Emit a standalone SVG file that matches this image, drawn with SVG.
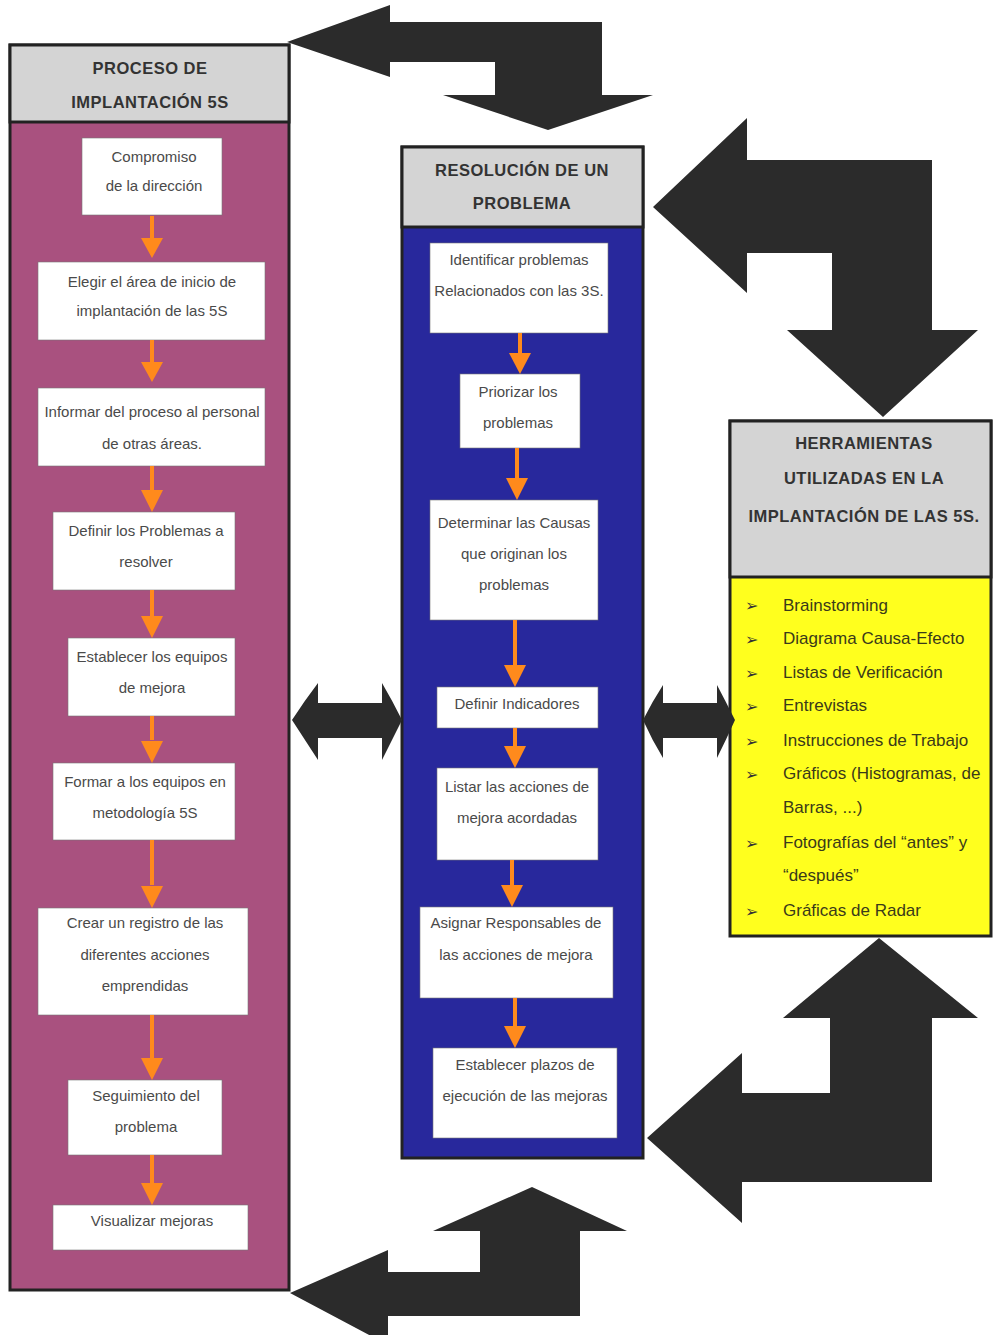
<svg xmlns="http://www.w3.org/2000/svg" width="993" height="1335" viewBox="0 0 993 1335">
<style>
.bg{fill:#ffffff}
.frame{stroke:#222;stroke-width:3}
.hdr{fill:#d4d4d4;stroke:#222;stroke-width:3}
.pink{fill:#a9517f}
.blue{fill:#28289c}
.yel{fill:#ffff1e}
.box{fill:#ffffff;stroke:#777;stroke-width:0.6}
.ht{font-family:"Liberation Sans",Arial,sans-serif;font-weight:bold;font-size:16.5px;fill:#333;text-anchor:middle;letter-spacing:0.5px}
.bt{font-family:"Liberation Sans",Arial,sans-serif;font-size:15px;fill:#4a4a4a;text-anchor:middle}
.lt{font-family:"Liberation Sans",Arial,sans-serif;font-size:17px;fill:#3a3a1a}
.bul{font-family:"DejaVu Sans",sans-serif;font-size:16px;fill:#333}
.big{fill:#2b2b2b}
.or{fill:#ff8a1c}
</style>
<rect width="993" height="1335" class="bg"/>

<g id="col-proceso">
<rect x="10" y="45" width="279" height="1245" class="pink frame"/>
<rect x="10" y="45" width="279" height="77" class="hdr"/>
<text class="ht" x="150" y="74">PROCESO DE</text>
<text class="ht" x="150" y="108">IMPLANTACIÓN 5S</text>
</g>

<g id="col-resolucion">
<rect x="402" y="147" width="241" height="1011" class="blue frame"/>
<rect x="402" y="147" width="241" height="80" class="hdr"/>
<text class="ht" x="522" y="176">RESOLUCIÓN DE UN</text>
<text class="ht" x="522" y="209">PROBLEMA</text>
</g>

<g id="col-herramientas">
<rect x="730" y="421" width="261" height="515" class="yel frame"/>
<rect x="730" y="421" width="261" height="156" class="hdr"/>
<text class="ht" x="864" y="449">HERRAMIENTAS</text>
<text class="ht" x="864" y="484">UTILIZADAS EN LA</text>
<text class="ht" x="864" y="522">IMPLANTACIÓN DE LAS 5S.</text>
<text class="bul" x="745" y="611">➢</text><text class="lt" x="783" y="611">Brainstorming</text>
<text class="bul" x="745" y="645">➢</text><text class="lt" x="783" y="644">Diagrama Causa-Efecto</text>
<text class="bul" x="745" y="679">➢</text><text class="lt" x="783" y="678">Listas de Verificación</text>
<text class="bul" x="745" y="712">➢</text><text class="lt" x="783" y="711">Entrevistas</text>
<text class="bul" x="745" y="747">➢</text><text class="lt" x="783" y="746">Instrucciones de Trabajo</text>
<text class="bul" x="745" y="780">➢</text><text class="lt" x="783" y="779">Gráficos (Histogramas, de</text>
<text class="lt" x="783" y="813">Barras, ...)</text>
<text class="bul" x="745" y="849">➢</text><text class="lt" x="783" y="848">Fotografías del “antes” y</text>
<text class="lt" x="783" y="881">“después”</text>
<text class="bul" x="745" y="917">➢</text><text class="lt" x="783" y="916">Gráficas de Radar</text>
</g>

<g id="p1"><rect x="82" y="138" width="140" height="77" class="box"/><text class="bt" x="154" y="162">Compromiso</text><text class="bt" x="154" y="191">de la dirección</text></g>
<g id="p2"><rect x="38" y="262" width="227" height="78" class="box"/><text class="bt" x="152" y="287">Elegir el área de inicio de</text><text class="bt" x="152" y="316">implantación de las 5S</text></g>
<g id="p3"><rect x="38" y="388" width="227" height="78" class="box"/><text class="bt" x="152" y="417">Informar del proceso al personal</text><text class="bt" x="152" y="449">de otras  áreas.</text></g>
<g id="p4"><rect x="53" y="512" width="182" height="78" class="box"/><text class="bt" x="146" y="536">Definir los Problemas a</text><text class="bt" x="146" y="567">resolver</text></g>
<g id="p5"><rect x="68" y="638" width="167" height="78" class="box"/><text class="bt" x="152" y="662">Establecer los equipos</text><text class="bt" x="152" y="693">de mejora</text></g>
<g id="p6"><rect x="53" y="763" width="182" height="77" class="box"/><text class="bt" x="145" y="787">Formar a los equipos en</text><text class="bt" x="145" y="818">metodología 5S</text></g>
<g id="p7"><rect x="38" y="908" width="210" height="107" class="box"/><text class="bt" x="145" y="928">Crear un registro de las</text><text class="bt" x="145" y="960">diferentes acciones</text><text class="bt" x="145" y="991">emprendidas</text></g>
<g id="p8"><rect x="68" y="1080" width="154" height="75" class="box"/><text class="bt" x="146" y="1101">Seguimiento del</text><text class="bt" x="146" y="1132">problema</text></g>
<g id="p9"><rect x="53" y="1205" width="195" height="45" class="box"/><text class="bt" x="152" y="1226">Visualizar mejoras</text></g>

<g id="r1"><rect x="430" y="243" width="178" height="90" class="box"/><text class="bt" x="519" y="265">Identificar problemas</text><text class="bt" x="519" y="296">Relacionados con las 3S.</text></g>
<g id="r2"><rect x="460" y="374" width="120" height="74" class="box"/><text class="bt" x="518" y="397">Priorizar los</text><text class="bt" x="518" y="428">problemas</text></g>
<g id="r3"><rect x="430" y="500" width="168" height="120" class="box"/><text class="bt" x="514" y="528">Determinar las Causas</text><text class="bt" x="514" y="559">que originan los</text><text class="bt" x="514" y="590">problemas</text></g>
<g id="r4"><rect x="437" y="687" width="161" height="41" class="box"/><text class="bt" x="517" y="709">Definir Indicadores</text></g>
<g id="r5"><rect x="437" y="768" width="161" height="92" class="box"/><text class="bt" x="517" y="792">Listar las acciones de</text><text class="bt" x="517" y="823">mejora acordadas</text></g>
<g id="r6"><rect x="420" y="907" width="193" height="91" class="box"/><text class="bt" x="516" y="928">Asignar Responsables de</text><text class="bt" x="516" y="960">las acciones de mejora</text></g>
<g id="r7"><rect x="433" y="1048" width="184" height="90" class="box"/><text class="bt" x="525" y="1070">Establecer plazos de</text><text class="bt" x="525" y="1101">ejecución de las mejoras</text></g>

<g id="connectors">
<g transform="translate(152,216)"><rect x="-2" y="0" width="4" height="24" class="or"/><polygon points="-11,22 11,22 0,42" class="or"/></g>
<g transform="translate(152,340)"><rect x="-2" y="0" width="4" height="24" class="or"/><polygon points="-11,22 11,22 0,42" class="or"/></g>
<g transform="translate(152,466)"><rect x="-2" y="0" width="4" height="26" class="or"/><polygon points="-11,24 11,24 0,46" class="or"/></g>
<g transform="translate(152,590)"><rect x="-2" y="0" width="4" height="26" class="or"/><polygon points="-11,26 11,26 0,48" class="or"/></g>
<g transform="translate(152,716)"><rect x="-2" y="0" width="4" height="24" class="or"/><polygon points="-11,25 11,25 0,47" class="or"/></g>
<g transform="translate(152,840)"><rect x="-2" y="0" width="4" height="45" class="or"/><polygon points="-11,46 11,46 0,68" class="or"/></g>
<g transform="translate(152,1015)"><rect x="-2" y="0" width="4" height="43" class="or"/><polygon points="-11,43 11,43 0,65" class="or"/></g>
<g transform="translate(152,1155)"><rect x="-2" y="0" width="4" height="28" class="or"/><polygon points="-11,28 11,28 0,50" class="or"/></g>

<g transform="translate(520,333)"><rect x="-2" y="0" width="4" height="20" class="or"/><polygon points="-11,20 11,20 0,41" class="or"/></g>
<g transform="translate(517,448)"><rect x="-2" y="0" width="4" height="30" class="or"/><polygon points="-11,30 11,30 0,52" class="or"/></g>
<g transform="translate(515,620)"><rect x="-2" y="0" width="4" height="45" class="or"/><polygon points="-11,45 11,45 0,67" class="or"/></g>
<g transform="translate(515,728)"><rect x="-2" y="0" width="4" height="20" class="or"/><polygon points="-11,18 11,18 0,40" class="or"/></g>
<g transform="translate(512,860)"><rect x="-2" y="0" width="4" height="27" class="or"/><polygon points="-11,25 11,25 0,47" class="or"/></g>
<g transform="translate(515,998)"><rect x="-2" y="0" width="4" height="30" class="or"/><polygon points="-11,28 11,28 0,50" class="or"/></g>

<polygon class="big" points="287,42 390,5 390,22 602,22 602,95 653,95 548,130 443,95 495,95 495,62 390,62 390,77"/>
<polygon class="big" points="653,207 747,118 747,160 932,160 932,330 978,330 883,417 787,330 832,330 832,253 747,253 747,293"/>
<polygon class="big" points="879,938 978,1018 932,1018 932,1182 742,1182 742,1223 647,1138 742,1053 742,1093 830,1093 830,1018 783,1018"/>
<polygon class="big" points="532,1187 627,1231 580,1231 580,1316 388,1316 388,1345 290,1293 388,1250 388,1272 480,1272 480,1231 433,1231"/>
<path class="big" d="M292,720 Q305,700 318,683 L318,703 L382,703 L382,683 Q392,700 402,720 Q392,740 382,760 L382,738 L318,738 L318,760 Q305,740 292,720 Z"/>
<path class="big" d="M643,720 Q652,702 663,685 L663,703 L717,703 L717,685 Q726,702 735,720 Q726,740 717,758 L717,738 L663,738 L663,758 Q652,740 643,720 Z"/>
</g>
</svg>
